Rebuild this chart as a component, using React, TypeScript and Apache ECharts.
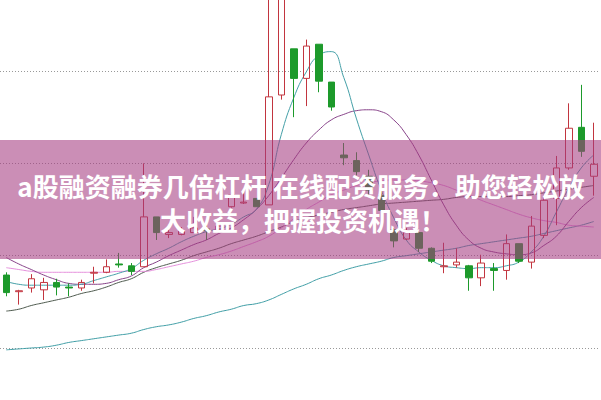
import React, { useEffect, useRef } from "react";
import * as echarts from "echarts";

// 48 trading days: [open, close, low, high]
const candles: number[][] = [
  [10.79, 10.60, 10.56, 10.82],
  [10.61, 10.62, 10.47, 10.63],
  [10.65, 10.75, 10.60, 10.80],
  [10.63, 10.71, 10.52, 10.76],
  [10.71, 10.66, 10.57, 10.75],
  [10.66, 10.65, 10.56, 10.70],
  [10.65, 10.71, 10.62, 10.74],
  [10.81, 10.82, 10.70, 10.88],
  [10.82, 10.88, 10.81, 10.96],
  [10.91, 10.90, 10.87, 11.03],
  [10.89, 10.83, 10.79, 10.92],
  [10.88, 11.42, 10.88, 12.00],
  [11.42, 11.25, 11.17, 11.42],
  [11.23, 11.25, 11.19, 11.28],
  [11.23, 11.27, 11.22, 11.31],
  [11.25, 11.30, 11.25, 11.42],
  [11.29, 11.27, 11.17, 11.35],
  [11.28, 11.32, 11.25, 11.36],
  [11.53, 11.66, 11.52, 11.69],
  [11.57, 11.58, 11.56, 11.68],
  [11.62, 11.53, 11.53, 11.62],
  [11.55, 12.72, 11.55, 14.00],
  [12.74, 13.95, 12.69, 14.10],
  [13.24, 12.92, 12.50, 13.24],
  [12.92, 13.27, 12.62, 13.34],
  [13.29, 12.89, 12.77, 13.29],
  [12.88, 12.61, 12.57, 12.88],
  [12.09, 12.06, 11.98, 12.22],
  [12.03, 11.91, 11.87, 12.12],
  [11.86, 11.71, 11.66, 11.93],
  [11.65, 11.49, 11.46, 11.71],
  [11.28, 11.16, 11.09, 11.30],
  [11.18, 11.25, 11.17, 11.30],
  [11.25, 11.08, 11.04, 11.26],
  [11.08, 10.94, 10.92, 11.09],
  [10.88, 10.89, 10.81, 11.14],
  [10.90, 10.93, 10.87, 11.08],
  [10.89, 10.76, 10.62, 10.90],
  [10.76, 10.92, 10.67, 11.01],
  [10.86, 10.84, 10.62, 10.92],
  [10.84, 11.13, 10.74, 11.23],
  [11.13, 10.94, 10.92, 11.13],
  [10.93, 11.32, 10.86, 11.43],
  [11.22, 11.60, 11.19, 11.66],
  [11.62, 11.95, 11.33, 12.08],
  [11.95, 12.38, 11.93, 12.65],
  [12.39, 12.13, 12.07, 12.85],
  [11.86, 11.99, 11.65, 12.44],
];

const days: string[] = candles.map((_, i) => "D" + (i + 1));

const ma5: number[] = [
  10.72, 10.69, 10.68, 10.68, 10.68, 10.68, 10.69, 10.73, 10.77, 10.81, 10.86, 10.95,
  11.02, 11.08, 11.15, 11.21, 11.26, 11.29, 11.34, 11.42, 11.50, 11.77, 12.31, 12.71,
  12.99, 13.17, 13.21, 12.93, 12.49, 12.09, 11.71, 11.41, 11.17, 11.04, 10.95, 10.89,
  10.87, 10.86, 10.87, 10.87, 10.89, 10.93, 11.04, 11.21, 11.47, 11.73, 11.95, 12.09,
];

const ma10: number[] = [
  10.98, 10.91, 10.85, 10.79, 10.74, 10.70, 10.69, 10.69, 10.70, 10.74, 10.78, 10.87,
  10.93, 11.00, 11.06, 11.12, 11.17, 11.24, 11.30, 11.39, 11.50, 11.65, 11.84, 12.04,
  12.22, 12.36, 12.47, 12.53, 12.57, 12.58, 12.56, 12.47, 12.31, 12.09, 11.82, 11.55,
  11.33, 11.17, 11.08, 11.04, 11.02, 11.01, 11.03, 11.11, 11.21, 11.37, 11.52, 11.63,
];

const ma20: number[] = [
  10.87, 10.85, 10.83, 10.82, 10.82, 10.82, 10.82, 10.82, 10.82, 10.83, 10.83, 10.83,
  10.85, 10.88, 10.91, 10.94, 10.98, 11.01, 11.05, 11.10, 11.15, 11.21, 11.30, 11.40,
  11.50, 11.58, 11.66, 11.71, 11.76, 11.79, 11.81, 11.82, 11.82, 11.81, 11.79, 11.76,
  11.71, 11.66, 11.60, 11.55, 11.50, 11.45, 11.41, 11.38, 11.36, 11.33, 11.32, 11.31,
];

const ma30: number[] = [
  10.40, 10.42, 10.46, 10.49, 10.52, 10.55, 10.59, 10.62, 10.66, 10.71, 10.75, 10.82,
  10.87, 10.91, 10.95, 11.00, 11.04, 11.08, 11.13, 11.17, 11.21, 11.26, 11.31, 11.37,
  11.41, 11.44, 11.47, 11.50, 11.52, 11.54, 11.56, 11.57, 11.58, 11.59, 11.60, 11.61,
  11.63, 11.64, 11.64, 11.64, 11.64, 11.65, 11.66, 11.68, 11.70, 11.72, 11.74, 11.76,
];

const ma60: number[] = [
  9.98, 9.99, 10.00, 10.01, 10.03, 10.06, 10.08, 10.10, 10.12, 10.14, 10.16, 10.20,
  10.23, 10.25, 10.28, 10.32, 10.35, 10.39, 10.42, 10.46, 10.48, 10.52, 10.58, 10.64,
  10.69, 10.75, 10.79, 10.84, 10.88, 10.91, 10.94, 10.98, 11.00, 11.02, 11.04, 11.06,
  11.08, 11.11, 11.13, 11.15, 11.17, 11.19, 11.21, 11.24, 11.27, 11.30, 11.33, 11.37,
];

const titleLines: string[] = [
  "a股融资融券几倍杠杆 在线配资服务：助您轻松放",
  "大收益，把握投资机遇！",
];

export default function App() {
  const ref = useRef<HTMLDivElement>(null);
  useEffect(() => {
    if (!ref.current) return;
    const chart = echarts.init(ref.current, undefined, { renderer: "svg" });
    const maLine = (name: string, data: number[], color: string) => ({
      name,
      type: "line",
      data,
      symbol: "none",
      smooth: true,
      clip: false,
      lineStyle: { color, width: 1 },
      z: 3,
    });
    chart.setOption({
      animation: false,
      backgroundColor: "#ffffff",
      grid: { left: -1, right: 1, top: 71, bottom: 52 },
      xAxis: {
        type: "category",
        data: days,
        boundaryGap: true,
        show: false,
      },
      yAxis: {
        type: "value",
        min: 10,
        max: 13,
        interval: 1,
        axisLine: { show: false },
        axisTick: { show: false },
        axisLabel: { show: false },
        splitLine: { show: true, lineStyle: { color: "#999999", type: [1, 2], width: 1 } },
      },
      series: [
        maLine("MA60", ma60, "#3f9ea6"),
        maLine("MA30", ma30, "#4e5a4e"),
        maLine("MA20", ma20, "#e58fdc"),
        maLine("MA10", ma10, "#874289"),
        maLine("MA5", ma5, "#45a0a8"),
        {
          name: "K",
          type: "candlestick",
          data: candles,
          barWidth: 7,
          clip: false,
          z: 4,
          itemStyle: {
            color: "rgba(255,255,255,0)",
            color0: "#1d9a2b",
            borderColor: "#c2353f",
            borderColor0: "#1d9a2b",
            borderWidth: 1,
          },
        },
      ],
      graphic: [
        {
          type: "rect",
          z: 100,
          shape: { x: 0, y: 140, width: 601, height: 119 },
          style: { fill: "rgba(165,60,130,0.58)" },
        },
        {
          type: "text",
          z: 101,
          style: {
            text: titleLines[0],
            x: 301,
            y: 185,
            textAlign: "center",
            textVerticalAlign: "middle",
            fill: "#ffffff",
            font: 'bold 26px "Noto Sans CJK SC"',
          },
        },
        {
          type: "text",
          z: 101,
          style: {
            text: titleLines[1],
            x: 303,
            y: 219,
            textAlign: "center",
            textVerticalAlign: "middle",
            fill: "#ffffff",
            font: 'bold 26px "Noto Sans CJK SC"',
          },
        },
      ],
    });
    return () => chart.dispose();
  }, []);
  return (
    <div
      ref={ref}
      style={{ position: "absolute", left: 0, top: 0, width: 601, height: 400 }}
    />
  );
}
